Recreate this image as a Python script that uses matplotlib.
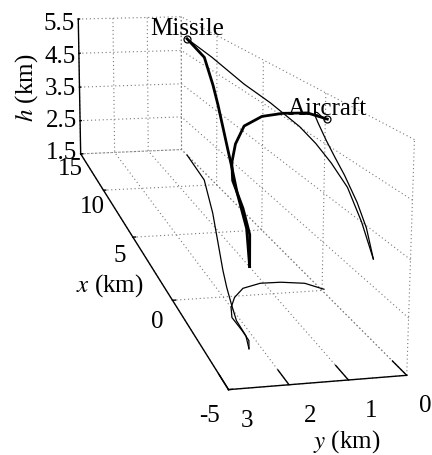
import numpy as np
import matplotlib
matplotlib.use("Agg")
import matplotlib.pyplot as plt

plt.rcParams['font.family'] = ['Liberation Serif', 'DejaVu Serif']
plt.rcParams['mathtext.fontset'] = 'stix'
plt.rcParams['axes.unicode_minus'] = False
plt.rcParams['grid.linestyle'] = (0, (1, 2.5))
plt.rcParams['grid.color'] = '#787878'
plt.rcParams['grid.linewidth'] = 0.8

# missile trajectory (km)
missile_x = [14.1, 10.65, 6.88, 4.31, 1.86, 0.63, -0.45, -1.52, -2.41, -3.12]
missile_y = [0.0, 0.20, 0.76, 1.19, 1.60, 1.79, 1.94, 2.08, 2.11, 2.22]
missile_h = [4.95, 4.85, 4.67, 4.62, 4.51, 4.38, 4.20, 3.95, 3.50, 3.0]

# aircraft trajectory (km)
aircraft_x = [0.07, 0.56, 0.74, 0.76, 0.49, -0.08, -0.71, -1.32, -2.12, -2.69, -3.12]
aircraft_y = [-0.06, 0.20, 0.65, 1.07, 1.49, 1.79, 2.00, 2.12, 2.11, 2.12, 2.22]
aircraft_h = [4.97, 5.02, 5.00, 4.95, 4.82, 4.58, 4.35, 4.14, 3.80, 3.46, 3.0]

x_ticks = [-5, 0, 5, 10, 15]
y_ticks = [0, 1, 2, 3]
h_ticks = [1.5, 2.5, 3.5, 4.5, 5.5]

fig = plt.figure(figsize=(4.32, 4.56), dpi=100)
ax = fig.add_axes([-0.5370, -0.2715, 1.9381, 1.8361], projection='3d')
ax.set_facecolor('none')
ax.set_proj_type('persp', focal_length=0.30)
ax.view_init(elev=11.61, azim=167.97)
ax.set_box_aspect((1.0, 0.16, 0.21))
ax.set_xlim(x_ticks[0], x_ticks[-1])
ax.set_ylim(y_ticks[0], y_ticks[-1])
ax.set_zlim(h_ticks[0], h_ticks[-1])
ax.set_xticks(x_ticks)
ax.set_yticks(y_ticks)
ax.set_zticks(h_ticks)

for axis in (ax.xaxis, ax.yaxis, ax.zaxis):
    axis.set_pane_color((1, 1, 1, 0))
    axis.pane.set_edgecolor('none')
    axis.line.set_color('black')
    axis.line.set_linewidth(1.0)
    axis.label.set_visible(False)
    axis.offsetText.set_visible(False)
    axis._axinfo['tick']['inward_factor'] = 0.0
    axis._axinfo['tick']['linewidth'] = {True: 1.0, False: 0.5}
ax.xaxis._axinfo['tick']['outward_factor'] = 0.25
ax.yaxis._axinfo['tick']['outward_factor'] = 0.45
ax.zaxis._axinfo['tick']['outward_factor'] = 0.15
ax.zaxis.set_ticks_position('upper')
ax.zaxis.set_label_position('upper')

ax.tick_params(axis='x', labelsize=18, pad=24)
ax.tick_params(axis='y', labelsize=18, pad=6)
ax.tick_params(axis='z', labelsize=18, pad=26)
for lab in ax.xaxis.get_ticklabels():
    lab.set_va('center')
for lab in ax.yaxis.get_ticklabels():
    lab.set_va('center')
    lab.set_ha('left')
ax.yaxis.get_ticklabels()[0].set_ha('center')

# 3-D paths
ax.plot(missile_x, missile_y, missile_h, color='black', lw=2.0)
ax.plot(aircraft_x, aircraft_y, aircraft_h, color='black', lw=2.0)

# shadows on the floor and on the y = 0 wall
floor = h_ticks[0]
ax.plot(missile_x, missile_y, np.full(len(missile_x), floor), color='black', lw=0.9)
ax.plot(aircraft_x, aircraft_y, np.full(len(aircraft_x), floor), color='black', lw=0.9)
ax.plot(missile_x, np.zeros(len(missile_x)), missile_h, color='black', lw=0.9)
ax.plot(aircraft_x, np.zeros(len(aircraft_x)), aircraft_h, color='black', lw=0.9)

# launch points
ax.plot([missile_x[0]], [missile_y[0]], [missile_h[0]], 'o', mfc='none', mec='black', ms=5, mew=0.9)
ax.plot([aircraft_x[0]], [aircraft_y[0]], [aircraft_h[0]], 'o', mfc='none', mec='black', ms=5, mew=0.9)
ax.text(missile_x[0], missile_y[0], missile_h[0], 'Missile', fontsize=18, ha='center', va='bottom')
ax.text(aircraft_x[0], aircraft_y[0], aircraft_h[0], 'Aircraft', fontsize=18, ha='center', va='bottom')

fig.text(0.0625, 0.807, '$h$ (km)', fontsize=18, rotation=90, ha='center', va='center')
fig.text(0.2535, 0.373, '$x$ (km)', fontsize=18, ha='center', va='center')
fig.text(0.803, 0.031, '$y$ (km)', fontsize=18, ha='center', va='center')

fig.savefig('out.png', dpi=100)
